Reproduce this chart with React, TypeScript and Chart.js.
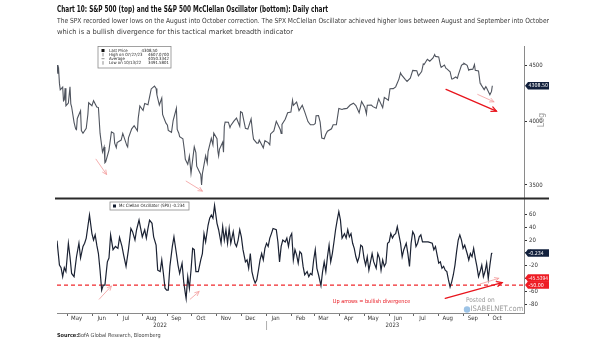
import React, { useEffect, useRef } from 'react';
import { Chart, registerables } from 'chart.js';

Chart.register(...registerables);

const FONT = "'Liberation Sans Narrow','DejaVu Sans Condensed','Roboto Condensed','Liberation Sans',Arial,sans-serif";

// ---------- DATA ----------
const axisStartDate = '2022-04-18';
const axisEndDate = '2023-11-14';

const spxDates = [
  '2022-04-18','2022-04-19','2022-04-20','2022-04-21','2022-04-22','2022-04-25','2022-04-26','2022-04-27','2022-04-28','2022-04-29',
  '2022-05-02','2022-05-04','2022-05-05','2022-05-06','2022-05-09','2022-05-11','2022-05-12','2022-05-13','2022-05-17','2022-05-18','2022-05-20','2022-05-24','2022-05-26','2022-05-27','2022-05-31',
  '2022-06-02','2022-06-06','2022-06-08','2022-06-10','2022-06-13','2022-06-15','2022-06-16','2022-06-17','2022-06-21','2022-06-24','2022-06-27','2022-06-28','2022-06-30',
  '2022-07-01','2022-07-06','2022-07-08','2022-07-13','2022-07-14','2022-07-15','2022-07-19','2022-07-22','2022-07-26','2022-07-27','2022-07-29',
  '2022-08-02','2022-08-04','2022-08-08','2022-08-10','2022-08-12','2022-08-16','2022-08-18','2022-08-19','2022-08-22','2022-08-25','2022-08-26','2022-08-30',
  '2022-09-01','2022-09-02','2022-09-06','2022-09-08','2022-09-12','2022-09-13','2022-09-15','2022-09-16','2022-09-20','2022-09-22','2022-09-23','2022-09-26','2022-09-28','2022-09-30',
  '2022-10-04','2022-10-06','2022-10-07','2022-10-11','2022-10-12','2022-10-13','2022-10-14','2022-10-18','2022-10-20','2022-10-21','2022-10-25','2022-10-27','2022-10-28',
  '2022-11-01','2022-11-02','2022-11-03','2022-11-04','2022-11-08','2022-11-09','2022-11-10','2022-11-11','2022-11-15','2022-11-17','2022-11-18','2022-11-22','2022-11-25','2022-11-29','2022-11-30',
  '2022-12-02','2022-12-06','2022-12-09','2022-12-13','2022-12-15','2022-12-16','2022-12-20','2022-12-22','2022-12-23','2022-12-28','2022-12-30',
  '2023-01-03','2023-01-05','2023-01-06','2023-01-10','2023-01-13','2023-01-18','2023-01-19','2023-01-20','2023-01-24','2023-01-27','2023-01-31',
  '2023-02-02','2023-02-03','2023-02-07','2023-02-10','2023-02-14','2023-02-17','2023-02-21','2023-02-24','2023-02-28',
  '2023-03-02','2023-03-03','2023-03-06','2023-03-08','2023-03-10','2023-03-13','2023-03-15','2023-03-17','2023-03-22','2023-03-24','2023-03-28','2023-03-31',
  '2023-04-04','2023-04-06','2023-04-10','2023-04-14','2023-04-18','2023-04-21','2023-04-25','2023-04-28',
  '2023-05-02','2023-05-04','2023-05-05','2023-05-10','2023-05-12','2023-05-16','2023-05-19','2023-05-24','2023-05-26','2023-05-31',
  '2023-06-02','2023-06-06','2023-06-09','2023-06-13','2023-06-15','2023-06-16','2023-06-21','2023-06-23','2023-06-27','2023-06-30',
  '2023-07-05','2023-07-07','2023-07-11','2023-07-13','2023-07-14','2023-07-18','2023-07-21','2023-07-25','2023-07-27','2023-07-28',
  '2023-08-01','2023-08-03','2023-08-04','2023-08-08','2023-08-10','2023-08-11','2023-08-15','2023-08-17','2023-08-18','2023-08-22','2023-08-24','2023-08-25','2023-08-29','2023-08-31',
  '2023-09-01','2023-09-05','2023-09-07','2023-09-08','2023-09-12','2023-09-14','2023-09-15','2023-09-19','2023-09-21','2023-09-22','2023-09-26','2023-09-28','2023-09-29',
  '2023-10-03','2023-10-05','2023-10-06',
];
const spxValues = [
  4500,4420,4459,4330,4272,4296,4175,4183,4287,4132,
  4155,4300,4147,4123,3991,3935,3930,4023,4088,3923,3901,3941,4057,4158,4132,
  4176,4121,4116,3901,3750,3790,3667,3675,3765,3912,3900,3821,3785,
  3825,3845,3899,3801,3790,3863,3937,3962,3921,4024,4130,
  4091,4152,4140,4210,4280,4305,4284,4228,4138,4199,4058,3986,
  3966,3924,3908,4006,4110,3932,3901,3873,3856,3758,3693,3655,3719,3586,
  3791,3745,3640,3589,3577,3500,3583,3720,3665,3753,3859,3807,3901,
  3856,3760,3720,3771,3828,3749,3956,3993,3992,3947,3965,4003,4026,3958,4080,
  4072,3941,3934,4019,3896,3852,3821,3822,3845,3783,3840,
  3825,3808,3895,3919,3999,3929,3899,3973,4017,4071,4077,
  4180,4136,4164,4090,4136,4079,3997,3970,3970,
  3981,4046,4048,3992,3862,3856,3892,3917,3937,3971,3971,4109,
  4100,4105,4109,4138,4154,4133,4071,4169,
  4119,4061,4136,4137,4124,4110,4192,4115,4205,4180,
  4282,4283,4299,4369,4426,4410,4365,4348,4378,4450,
  4446,4399,4439,4510,4505,4555,4536,4567,4600,4582,
  4577,4502,4478,4499,4468,4464,4437,4370,4370,4388,4376,4406,4497,4508,
  4516,4497,4451,4457,4461,4505,4450,4444,4330,4320,4274,4300,4288,
  4229,4258,4308.5,
];

const oscDates = [
  '2022-04-18','2022-04-21','2022-04-23','2022-04-25','2022-04-27','2022-04-29',
  '2022-05-02','2022-05-04','2022-05-06','2022-05-09','2022-05-12','2022-05-15','2022-05-17','2022-05-20','2022-05-22','2022-05-24','2022-05-28','2022-05-31',
  '2022-06-02','2022-06-04','2022-06-06','2022-06-08','2022-06-10','2022-06-12','2022-06-14','2022-06-16','2022-06-19','2022-06-21','2022-06-23','2022-06-26','2022-06-29',
  '2022-07-02','2022-07-04','2022-07-07','2022-07-09','2022-07-12','2022-07-15','2022-07-18','2022-07-20','2022-07-23','2022-07-25','2022-07-28','2022-07-30',
  '2022-08-01','2022-08-04','2022-08-06','2022-08-08','2022-08-10','2022-08-13','2022-08-15','2022-08-18','2022-08-20','2022-08-23','2022-08-25','2022-08-27','2022-08-29','2022-08-31',
  '2022-09-02','2022-09-04','2022-09-07','2022-09-09','2022-09-12','2022-09-14','2022-09-16','2022-09-19','2022-09-21','2022-09-23','2022-09-24','2022-09-26','2022-09-28','2022-09-30',
  '2022-10-02','2022-10-04','2022-10-06','2022-10-09','2022-10-12','2022-10-14','2022-10-16','2022-10-18','2022-10-21','2022-10-23','2022-10-25','2022-10-27','2022-10-29',
  '2022-11-01','2022-11-03','2022-11-06','2022-11-08','2022-11-10','2022-11-12','2022-11-14','2022-11-16','2022-11-18','2022-11-21','2022-11-23','2022-11-25','2022-11-27','2022-11-29',
  '2022-12-01','2022-12-03','2022-12-06','2022-12-08','2022-12-10','2022-12-12','2022-12-14','2022-12-16','2022-12-18','2022-12-20','2022-12-22','2022-12-24','2022-12-26','2022-12-28','2022-12-30',
  '2023-01-01','2023-01-03','2023-01-05','2023-01-07','2023-01-09','2023-01-13','2023-01-15','2023-01-17','2023-01-19','2023-01-21','2023-01-24','2023-01-26','2023-01-28','2023-01-30',
  '2023-02-01','2023-02-03','2023-02-05','2023-02-07','2023-02-09','2023-02-11','2023-02-13','2023-02-15','2023-02-17','2023-02-20','2023-02-22','2023-02-24','2023-02-26','2023-02-28',
  '2023-03-02','2023-03-04','2023-03-06','2023-03-09','2023-03-11','2023-03-13','2023-03-15','2023-03-17','2023-03-19','2023-03-21','2023-03-23','2023-03-25','2023-03-27','2023-03-29','2023-03-31',
  '2023-04-02','2023-04-04','2023-04-07','2023-04-09','2023-04-11','2023-04-13','2023-04-15','2023-04-17','2023-04-19','2023-04-21','2023-04-23','2023-04-25','2023-04-27','2023-04-29',
  '2023-05-01','2023-05-03','2023-05-05','2023-05-07','2023-05-09','2023-05-11','2023-05-13','2023-05-16','2023-05-18','2023-05-20','2023-05-22','2023-05-24','2023-05-26','2023-05-28','2023-05-30',
  '2023-06-01','2023-06-03','2023-06-05','2023-06-07','2023-06-09','2023-06-11','2023-06-13','2023-06-15','2023-06-17','2023-06-19','2023-06-22','2023-06-24','2023-06-26','2023-06-28','2023-06-30',
  '2023-07-02','2023-07-04','2023-07-06','2023-07-08','2023-07-10','2023-07-12','2023-07-14','2023-07-19','2023-07-24','2023-07-26','2023-07-28','2023-07-30',
  '2023-08-01','2023-08-03','2023-08-05','2023-08-07','2023-08-09','2023-08-11','2023-08-13','2023-08-15','2023-08-17','2023-08-19','2023-08-21','2023-08-23','2023-08-25','2023-08-27','2023-08-29','2023-08-31',
  '2023-09-02','2023-09-05','2023-09-07','2023-09-09','2023-09-11','2023-09-13','2023-09-15','2023-09-17','2023-09-19','2023-09-21','2023-09-23','2023-09-25','2023-09-27','2023-09-29',
  '2023-10-01','2023-10-03','2023-10-05','2023-10-06',
];
const oscValues = [
  19,-19,-23,-37,-23,-29,
  15,-6,-32,-37,-6,15,-8,10,15,23,59,30,
  20,28,12,-1,-27,-58,-50,-50,-14,-8,28,5,10,
  7,24,10,-3,-21,5,38,33,20,36,51,38,
  25,36,23,38,51,46,25,12,-27,-29,-11,-32,-55,-58,
  -58,-21,10,25,-1,-19,-32,-16,-45,-63,-71,-37,-55,-27,
  7,5,-29,-29,-11,-1,30,17,43,54,59,54,74,
  46,36,15,41,20,36,15,38,15,33,15,10,20,36,
  25,5,-14,-11,-24,-1,-29,-40,-47,-42,-27,-11,-1,-11,7,
  15,10,23,30,38,36,17,-14,10,20,17,23,10,25,
  30,-11,5,-3,-16,2,-1,-21,-34,-29,-37,-32,-34,-11,
  5,-24,-34,-51,-29,-14,-29,-6,12,-14,-1,17,36,51,64,
  51,23,30,23,36,25,30,15,7,-6,-14,-6,12,10,
  -8,-19,-6,-27,-14,-1,-14,-24,-1,-8,-27,-11,-21,-16,15,
  17,30,23,28,30,41,28,15,-6,5,15,-1,-21,15,33,
  28,10,15,25,28,17,17,17,15,5,10,-3,
  -16,-14,-24,-21,-27,-29,-42,-53,-45,-34,-19,2,20,28,20,7,
  12,-1,-11,-1,-6,7,-8,-21,-37,-29,-19,-37,-29,-16,
  -40,-19,-1,-0.234,
];

const monthTickDates = [
  '2022-05-01','2022-06-01','2022-07-01','2022-08-01','2022-09-01','2022-10-01','2022-11-01','2022-12-01',
  '2023-01-01','2023-02-01','2023-03-01','2023-04-01','2023-05-01','2023-06-01','2023-07-01','2023-08-01','2023-09-01','2023-10-01',
];
const monthTickLabels = ['May','Jun','Jul','Aug','Sep','Oct','Nov','Dec','Jan','Feb','Mar','Apr','May','Jun','Jul','Aug','Sep','Oct'];
const yearLabels = ['2022', '2023'];
const yearLabelDates = ['2022-08-23', '2023-06-05'];
const yearDividerDate = '2023-01-01';

const spxTicks = [3500, 4000, 4500];
const oscTicks = [-80, -60, -40, -20, 0, 20, 40, 60];
const divergenceLevel = -50;
const oscSecondTag = -45.5394;

const legendTopLabels = ['Last Price', 'High on 07/27/23', 'Average', 'Low on 10/13/22'];
const legendTopValues = ['4308.50', '4607.0700', '4050.3342', '3491.5801'];

// arrows: [fromDate, fromValue, toDate, toValue]
const topArrowsThin: [string, number, string, number][] = [
  ['2022-06-05', 3694, '2022-06-18', 3578],
  ['2022-09-24', 3528, '2022-10-14', 3455],
  ['2023-09-18', 4231, '2023-10-08', 4166],
];
const topArrowsBold: [string, number, string, number][] = [
  ['2023-08-10', 4276, '2023-10-11', 4086],
];
const bottomArrowsThin: [string, number, string, number][] = [
  ['2022-06-09', -72, '2022-06-24', -51.5],
  ['2022-09-29', -72, '2022-10-10', -60],
  ['2023-09-21', -48.4, '2023-10-14', -39.5],
];
const bottomArrowsBold: [string, number, string, number][] = [
  ['2023-08-09', -70.6, '2023-10-18', -46.3],
];

const titleText = 'Chart 10: S&P 500 (top) and the S&P 500 McClellan Oscillator (bottom): Daily chart';
const subtitleLines = [
  'The SPX recorded lower lows on the August into October correction. The SPX McClellan Oscillator achieved higher lows between August and September into October',
  'which is a bullish divergence for this tactical market breadth indicator',
];

// ---------- HELPERS ----------
const toDay = (s: string) => {
  const p = s.split('-').map(Number);
  return Math.round((Date.UTC(p[0], p[1] - 1, p[2]) - Date.UTC(2022, 0, 1)) / 86400000);
};

function fitText(ctx: CanvasRenderingContext2D, text: string, x: number, y: number, w: number, font: string, color: string, shrinkOnly = false) {
  ctx.save();
  ctx.font = font;
  ctx.fillStyle = color;
  ctx.textBaseline = 'middle';
  ctx.textAlign = 'left';
  const m = ctx.measureText(text).width || 1;
  let k = w / m;
  if (shrinkOnly) k = Math.min(1, k);
  ctx.translate(x, y);
  ctx.scale(k, 1);
  ctx.fillText(text, 0, 0);
  ctx.restore();
}

function plainText(ctx: CanvasRenderingContext2D, text: string, x: number, y: number, font: string, color: string, align: CanvasTextAlign = 'left') {
  ctx.font = font;
  ctx.fillStyle = color;
  ctx.textBaseline = 'middle';
  ctx.textAlign = align;
  ctx.fillText(text, x, y);
}

function arrow(ctx: CanvasRenderingContext2D, x0: number, y0: number, x1: number, y1: number, color: string, width: number, head: number) {
  ctx.save();
  ctx.strokeStyle = color;
  ctx.lineWidth = width;
  ctx.lineCap = 'round';
  ctx.beginPath();
  ctx.moveTo(x0, y0);
  ctx.lineTo(x1, y1);
  ctx.stroke();
  const a = Math.atan2(y1 - y0, x1 - x0);
  ctx.beginPath();
  ctx.moveTo(x1 - head * Math.cos(a - 0.45), y1 - head * Math.sin(a - 0.45));
  ctx.lineTo(x1, y1);
  ctx.lineTo(x1 - head * Math.cos(a + 0.45), y1 - head * Math.sin(a + 0.45));
  ctx.stroke();
  ctx.restore();
}

function tag(ctx: CanvasRenderingContext2D, x: number, yc: number, fill: string, text: string) {
  const w = 24, h = 7.4;
  ctx.save();
  ctx.fillStyle = fill;
  ctx.beginPath();
  ctx.moveTo(x, yc);
  ctx.lineTo(x + 3, yc - h / 2);
  ctx.lineTo(x + w, yc - h / 2);
  ctx.lineTo(x + w, yc + h / 2);
  ctx.lineTo(x + 3, yc + h / 2);
  ctx.closePath();
  ctx.fill();
  fitText(ctx, text, x + 3.5, yc + 0.3, 19.5, `5.3px ${FONT}`, '#ffffff', true);
  ctx.restore();
}

const overlay = {
  id: 'overlay',
  afterDraw(chart: any) {
    const ctx: CanvasRenderingContext2D = chart.ctx;
    const xs = chart.scales.x;
    const yt = chart.scales.yTop;
    const yb = chart.scales.yBot;
    const px = (d: string) => xs.getPixelForValue(toDay(d));
    ctx.save();

    // title & subtitle
    fitText(ctx, titleText, 57, 10, 271, `bold 8.5px ${FONT}`, '#111');
    fitText(ctx, subtitleLines[0], 57, 21.5, 492, `7px ${FONT}`, '#3a3a3a');
    fitText(ctx, subtitleLines[1], 57, 32, 236, `7px ${FONT}`, '#3a3a3a');

    // separator between panels
    ctx.strokeStyle = '#2a2a2a';
    ctx.lineWidth = 2;
    ctx.beginPath();
    ctx.moveTo(55, yt.bottom);
    ctx.lineTo(549, yt.bottom);
    ctx.stroke();

    // arrows
    const drawSet = (list: [string, number, string, number][], sc: any, color: string, w: number, head: number) => {
      list.forEach(([d0, v0, d1, v1]) => arrow(ctx, px(d0), sc.getPixelForValue(v0), px(d1), sc.getPixelForValue(v1), color, w, head));
    };
    drawSet(topArrowsThin, yt, '#f29a9a', 0.8, 4.5);
    drawSet(bottomArrowsThin, yb, '#f29a9a', 0.8, 4.5);
    drawSet(topArrowsBold, yt, '#e8141c', 1.3, 5.5);
    drawSet(bottomArrowsBold, yb, '#e8141c', 1.3, 5.5);

    // top legend
    ctx.fillStyle = '#ffffff';
    ctx.fillRect(98, 46.5, 73, 21.5);
    ctx.strokeStyle = '#8a8a8a';
    ctx.lineWidth = 0.8;
    ctx.strokeRect(98, 46.5, 73, 21.5);
    const rows = [50.5, 54.6, 58.7, 62.9];
    ctx.fillStyle = '#111';
    ctx.fillRect(101.5, 49, 3, 3);
    ctx.strokeStyle = '#444';
    ctx.lineWidth = 0.6;
    ctx.beginPath();
    ctx.moveTo(103, rows[1] - 1.8); ctx.lineTo(103, rows[1] + 1.8);
    ctx.moveTo(101.5, rows[2]); ctx.lineTo(104.5, rows[2]);
    ctx.moveTo(103, rows[3] - 1.8); ctx.lineTo(103, rows[3] + 1.8);
    ctx.stroke();
    legendTopLabels.forEach((t, i) => plainText(ctx, t, 109, rows[i], `4.3px ${FONT}`, '#222'));
    legendTopValues.forEach((t, i) => plainText(ctx, t, i === 0 ? 141.5 : 148, rows[i], `4.3px ${FONT}`, '#222'));

    // bottom legend
    ctx.fillStyle = '#ffffff';
    ctx.fillRect(110, 202, 79, 8);
    ctx.strokeStyle = '#8a8a8a';
    ctx.lineWidth = 0.8;
    ctx.strokeRect(110, 202, 79, 8);
    ctx.fillStyle = '#111a2e';
    ctx.fillRect(113, 204.5, 3, 3);
    plainText(ctx, 'Mc Clellan Oscillator (SPX)', 119, 206.2, `4.4px ${FONT}`, '#222');
    plainText(ctx, String(oscValues[oscValues.length - 1]), 172, 206.2, `4.4px ${FONT}`, '#222');

    // right-side tags
    const lastSpx = spxValues[spxValues.length - 1];
    const lastOsc = oscValues[oscValues.length - 1];
    tag(ctx, 525, yt.getPixelForValue(lastSpx), '#12203c', lastSpx.toFixed(2));
    tag(ctx, 525, yb.getPixelForValue(lastOsc), '#12203c', String(lastOsc));
    const lvlY = yb.getPixelForValue(divergenceLevel);
    tag(ctx, 525, lvlY - 7, '#ee1c24', oscSecondTag.toFixed(4));
    tag(ctx, 525, lvlY, '#ee1c24', divergenceLevel.toFixed(2));

    // "Log" marker
    ctx.save();
    ctx.translate(542, 120);
    ctx.rotate(-Math.PI / 2);
    plainText(ctx, 'Log', 0, 0, `9px ${FONT}`, '#9a9a9a', 'center');
    ctx.restore();

    // annotation text
    plainText(ctx, 'Up arrows = bullish divergence', 371.5, 302, `5.5px ${FONT}`, '#e8141c', 'center');

    // watermark
    plainText(ctx, 'Posted on', 466, 300, `6.5px ${FONT}`, '#9a9a9a');
    ctx.fillStyle = '#9cc3e6';
    ctx.beginPath();
    ctx.arc(467, 309.5, 3.2, 0, Math.PI * 2);
    ctx.fill();
    plainText(ctx, 'ISABELNET.com', 470.5, 309.5, `7.5px ${FONT}`, '#9a9a9a');

    // year divider
    const dx = px(yearDividerDate);
    ctx.strokeStyle = '#999';
    ctx.lineWidth = 0.8;
    ctx.beginPath();
    ctx.moveTo(dx, 321);
    ctx.lineTo(dx, 330);
    ctx.stroke();

    // source
    plainText(ctx, 'Source:', 57, 335.5, `bold 5.5px ${FONT}`, '#222');
    plainText(ctx, 'BofA Global Research, Bloomberg', 77.5, 335.5, `5.5px ${FONT}`, '#444');

    ctx.restore();
  },
};

export default function App() {
  const ref = useRef<HTMLCanvasElement>(null);

  useEffect(() => {
    const canvas = ref.current;
    if (!canvas) return;
    Chart.defaults.font.family = FONT;
    const xMin = toDay(axisStartDate);
    const xMax = toDay(axisEndDate);
    const nS = Math.min(spxDates.length, spxValues.length);
    const nO = Math.min(oscDates.length, oscValues.length);

    const chart = new Chart(canvas, {
      type: 'line',
      data: {
        datasets: [
          {
            label: 'S&P 500',
            data: spxDates.slice(0, nS).map((d, i) => ({ x: toDay(d), y: spxValues[i] })),
            xAxisID: 'x',
            yAxisID: 'yTop',
            borderColor: '#4f545e',
            borderWidth: 1.1,
            pointRadius: 0,
            tension: 0,
          },
          {
            label: 'McClellan Oscillator',
            data: oscDates.slice(0, nO).map((d, i) => ({ x: toDay(d), y: oscValues[i] })),
            xAxisID: 'x',
            yAxisID: 'yBot',
            borderColor: '#1b2233',
            borderWidth: 1.2,
            pointRadius: 0,
            tension: 0,
          },
          {
            label: 'Level',
            data: [{ x: xMin, y: divergenceLevel }, { x: xMax, y: divergenceLevel }],
            xAxisID: 'x',
            yAxisID: 'yBot',
            borderColor: '#f0282d',
            borderWidth: 1.3,
            borderDash: [4, 3],
            pointRadius: 0,
          },
        ],
      } as any,
      options: {
        responsive: false,
        animation: false,
        devicePixelRatio: 1,
        layout: { padding: { left: 57, top: 46.5, right: 0, bottom: 9 } },
        plugins: {
          legend: { display: false },
          tooltip: { enabled: false },
          title: { display: false },
        },
        scales: {
          x: {
            type: 'linear',
            position: 'bottom',
            weight: 0,
            min: xMin,
            max: xMax,
            bounds: 'data',
            afterBuildTicks: (s: any) => { s.ticks = monthTickDates.map((d) => ({ value: toDay(d) })); },
            afterFit: (s: any) => { s.height = 9; },
            ticks: {
              autoSkip: false,
              maxRotation: 0,
              minRotation: 0,
              labelOffset: 9,
              padding: -1,
              font: { size: 6 },
              color: '#333',
              callback: (_v: any, i: number) => monthTickLabels[i] ?? '',
            },
            grid: { drawOnChartArea: false, drawTicks: true, tickLength: 3, color: '#666' },
            border: { display: true, color: '#8a8a8a', width: 1 },
          },
          x2: {
            type: 'linear',
            position: 'bottom',
            weight: 1,
            min: xMin,
            max: xMax,
            bounds: 'data',
            afterBuildTicks: (s: any) => { s.ticks = yearLabelDates.map((d) => ({ value: toDay(d) })); },
            afterFit: (s: any) => { s.height = 10; },
            ticks: {
              autoSkip: false,
              maxRotation: 0,
              minRotation: 0,
              padding: 0,
              font: { size: 6 },
              color: '#333',
              callback: (_v: any, i: number) => yearLabels[i] ?? '',
            },
            grid: { display: false, drawTicks: false },
            border: { display: false },
          },
          yTop: {
            type: 'logarithmic',
            position: 'right',
            stack: 'panels',
            stackWeight: 152,
            min: 3402,
            max: 4678,
            bounds: 'data',
            afterBuildTicks: (s: any) => { s.ticks = spxTicks.map((v) => ({ value: v })); },
            afterFit: (s: any) => { s.width = 81; },
            ticks: { autoSkip: false, padding: 2, font: { size: 6 }, color: '#333', callback: (v: any) => String(v) },
            grid: { drawOnChartArea: false, drawTicks: true, tickLength: 3, color: '#333' },
            border: { display: true, color: '#8a8a8a', width: 1 },
          },
          yBot: {
            type: 'linear',
            position: 'right',
            stack: 'panels',
            stackWeight: 114.5,
            min: -93.5,
            max: 84.6,
            bounds: 'data',
            afterBuildTicks: (s: any) => { s.ticks = oscTicks.map((v) => ({ value: v })); },
            afterFit: (s: any) => { s.width = 81; },
            ticks: { autoSkip: false, padding: 2, font: { size: 6 }, color: '#333', callback: (v: any) => String(v) },
            grid: { drawOnChartArea: false, drawTicks: true, tickLength: 3, color: '#333' },
            border: { display: true, color: '#8a8a8a', width: 1 },
          },
        },
      } as any,
      plugins: [overlay],
    });

    return () => chart.destroy();
  }, []);

  return (
    <div style={{ position: 'fixed', left: 0, top: 0, width: 605, height: 341, background: '#fff' }}>
      <canvas ref={ref} width={605} height={341} style={{ display: 'block', width: 605, height: 341 }} />
    </div>
  );
}
